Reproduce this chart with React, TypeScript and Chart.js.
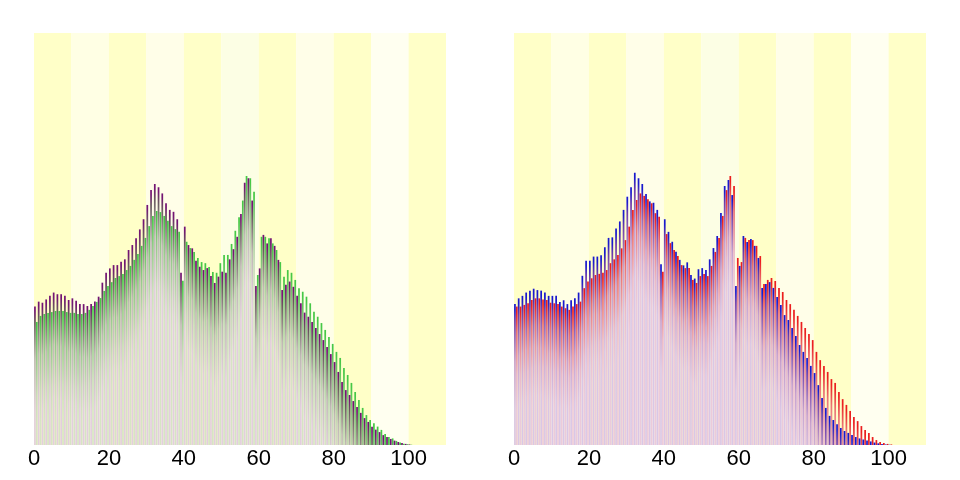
import React, { useEffect, useRef } from 'react';
import { Chart, registerables } from 'chart.js';

Chart.register(...registerables);

// ---- data (population by age, thousands) ----
const AGES: number[] = Array.from({ length: 101 }, (_, i) => i);

const LEFT_PURPLE: number[] = [
  504, 522, 518, 530, 543, 555, 549, 549, 543, 528,
  534, 525, 513, 513, 506, 513, 522, 540, 591, 627,
  643, 655, 655, 667, 676, 710, 728, 753, 785, 822,
  874, 928, 950, 938, 916, 880, 856, 849, 822, 627,
  795, 728, 716, 671, 649, 637, 644, 615, 590, 613,
  631, 627, 676, 713, 758, 841, 955, 971, 890, 579,
  643, 765, 734, 753, 725, 674, 564, 583, 595, 576,
  543, 516, 482, 467, 448, 426, 404, 382, 357, 331,
  302, 266, 229, 200, 182, 160, 138, 117, 98, 84,
  66, 56, 47, 36, 29, 22, 16, 11, 7, 4,
  2,
];

const LEFT_GREEN: number[] = [
  448, 470, 477, 481, 484, 488, 488, 488, 484, 481,
  481, 477, 477, 481, 492, 506, 521, 535, 561, 579,
  593, 608, 615, 623, 637, 652, 674, 695, 725, 754,
  797, 834, 852, 848, 834, 816, 797, 786, 776, 598,
  740, 717, 703, 681, 666, 662, 648, 630, 627, 662,
  692, 692, 732, 780, 829, 890, 979, 971, 922, 619,
  758, 758, 753, 734, 710, 666, 613, 637, 627, 601,
  571, 558, 540, 516, 485, 467, 444, 419, 393, 368,
  339, 317, 280, 255, 226, 193, 164, 135, 109, 91,
  79, 67, 55, 40, 29, 24, 15, 9, 5, 3,
  1,
];

const RIGHT_BLUE: number[] = [
  513, 534, 543, 555, 562, 569, 564, 562, 555, 543,
  543, 543, 521, 527, 513, 527, 534, 555, 616, 671,
  671, 686, 686, 691, 720, 754, 756, 788, 814, 856,
  904, 938, 991, 971, 950, 914, 887, 882, 856, 658,
  822, 776, 740, 704, 674, 654, 665, 619, 606, 640,
  644, 637, 676, 717, 761, 845, 943, 965, 910, 579,
  652, 761, 739, 750, 725, 681, 572, 586, 593, 572,
  539, 510, 473, 455, 426, 397, 364, 339, 317, 288,
  262, 218, 171, 135, 106, 91, 76, 62, 51, 44,
  36, 29, 24, 20, 16, 13, 9, 6, 4, 2,
  1,
];

const RIGHT_RED: number[] = [
  504, 504, 510, 516, 528, 534, 534, 530, 528, 518,
  516, 513, 504, 498, 492, 504, 513, 522, 571, 595,
  607, 619, 623, 627, 637, 662, 676, 692, 716, 746,
  795, 856, 892, 916, 907, 895, 880, 844, 831, 631,
  768, 735, 710, 688, 655, 644, 644, 601, 590, 615,
  623, 615, 652, 703, 754, 834, 928, 979, 943, 681,
  666, 754, 746, 746, 725, 688, 586, 601, 608, 597,
  572, 557, 528, 513, 492, 470, 448, 426, 404, 382,
  339, 309, 288, 266, 240, 226, 193, 167, 146, 124,
  102, 87, 69, 55, 44, 29, 18, 11, 7, 4,
  2,
];

const X_TICKS: number[] = [0, 20, 40, 60, 80, 100];
const BAND_STARTS: number[] = [0, 10, 20, 30, 40, 50, 60, 70, 80, 90, 100];

// ---- styles ----
const X_MIN = 0;
const X_MAX = 110;
const BAND_WIDTH = 10;
const Y_MAX = 1500;
const GRAD_LEN = 105;
const BAND_COLORS = [
  '#ffffc8', '#ffffe4', '#ffffc8', '#fffee8', '#ffffc8', '#fcfee4',
  '#ffffc8', '#fffee8', '#ffffc8', '#fffff0', '#ffffc8',
];

type Stop = [number, string];

const PURPLE_STOPS: Stop[] = [
  [0, 'rgb(115,20,115)'],
  [0.04, 'rgb(115,20,115)'],
  [0.15, 'rgb(105,90,95)'],
  [0.5, 'rgb(190,185,180)'],
  [1, 'rgb(226,206,222)'],
];
const GREEN_STOPS: Stop[] = [
  [0, 'rgb(70,200,70)'],
  [0.04, 'rgb(70,200,70)'],
  [0.3, 'rgb(145,200,135)'],
  [0.7, 'rgb(200,220,185)'],
  [1, 'rgb(214,228,196)'],
];
const BLUE_STOPS: Stop[] = [
  [0, 'rgb(25,25,205)'],
  [0.05, 'rgb(25,25,205)'],
  [0.16, 'rgb(110,60,170)'],
  [0.55, 'rgb(200,160,205)'],
  [1, 'rgb(218,198,230)'],
];
const RED_STOPS: Stop[] = [
  [0, 'rgb(235,30,30)'],
  [0.05, 'rgb(235,30,30)'],
  [0.25, 'rgb(235,115,115)'],
  [0.65, 'rgb(235,185,200)'],
  [1, 'rgb(236,202,218)'],
];

function makeFill(stops: Stop[]) {
  return (c: any) => {
    const chart = c.chart;
    const yScale = chart.scales ? chart.scales.y : null;
    if (c.type !== 'data' || !yScale || !chart.chartArea) return stops[0][1];
    const v = c.parsed ? c.parsed.y : c.raw.y;
    const top = yScale.getPixelForValue(v);
    const g = chart.ctx.createLinearGradient(0, top, 0, top + GRAD_LEN);
    stops.forEach(([o, col]) => g.addColorStop(o, col));
    return g;
  };
}

const bandsPlugin = {
  id: 'bands',
  beforeDatasetsDraw(chart: any) {
    const { ctx, chartArea, scales } = chart;
    const x = scales.x;
    ctx.save();
    BAND_STARTS.forEach((s, i) => {
      const x0 = x.getPixelForValue(s);
      const x1 = x.getPixelForValue(Math.min(s + BAND_WIDTH, X_MAX));
      ctx.fillStyle = BAND_COLORS[i % BAND_COLORS.length];
      ctx.fillRect(x0, chartArea.top, x1 - x0, chartArea.bottom - chartArea.top);
    });
    ctx.restore();
  },
};

interface SeriesDef {
  values: number[];
  stops: Stop[];
}

function Panel({ series }: { series: SeriesDef[] }) {
  const ref = useRef<HTMLCanvasElement | null>(null);
  useEffect(() => {
    if (!ref.current) return;
    const chart = new Chart(ref.current, {
      type: 'bar',
      data: {
        datasets: series.map((s) => ({
          data: s.values.map((v, i) => ({ x: AGES[i] + 0.5, y: v })),
          backgroundColor: makeFill(s.stops),
          borderWidth: 0,
          categoryPercentage: 1,
          barPercentage: 0.92,
        })),
      },
      options: {
        animation: false,
        responsive: false,
        maintainAspectRatio: false,
        layout: { padding: { left: 34, right: 34, top: 33, bottom: 6.6 } },
        plugins: {
          legend: { display: false },
          tooltip: { enabled: false },
        },
        scales: {
          x: {
            type: 'linear',
            min: X_MIN,
            max: X_MAX,
            offset: false,
            grid: { display: false, drawTicks: false },
            border: { display: false },
            afterBuildTicks: (axis: any) => {
              axis.ticks = X_TICKS.map((v) => ({ value: v }));
            },
            ticks: {
              color: '#000',
              padding: 1,
              maxRotation: 0,
              autoSkip: false,
              font: { family: '"Liberation Sans", Arial, sans-serif', size: 22, lineHeight: 1.2 },
            },
          },
          y: {
            display: false,
            min: 0,
            max: Y_MAX,
          },
        },
      } as any,
      plugins: [bandsPlugin],
    });
    return () => chart.destroy();
  }, [series]);
  return <canvas ref={ref} width={480} height={480} style={{ display: 'block' }} />;
}

const LEFT_SERIES: SeriesDef[] = [
  { values: LEFT_PURPLE, stops: PURPLE_STOPS },
  { values: LEFT_GREEN, stops: GREEN_STOPS },
];
const RIGHT_SERIES: SeriesDef[] = [
  { values: RIGHT_BLUE, stops: BLUE_STOPS },
  { values: RIGHT_RED, stops: RED_STOPS },
];

export default function App() {
  return (
    <div
      style={{
        position: 'fixed',
        left: 0,
        top: 0,
        width: 960,
        height: 480,
        display: 'flex',
        background: '#fff',
      }}
    >
      <Panel series={LEFT_SERIES} />
      <Panel series={RIGHT_SERIES} />
    </div>
  );
}
